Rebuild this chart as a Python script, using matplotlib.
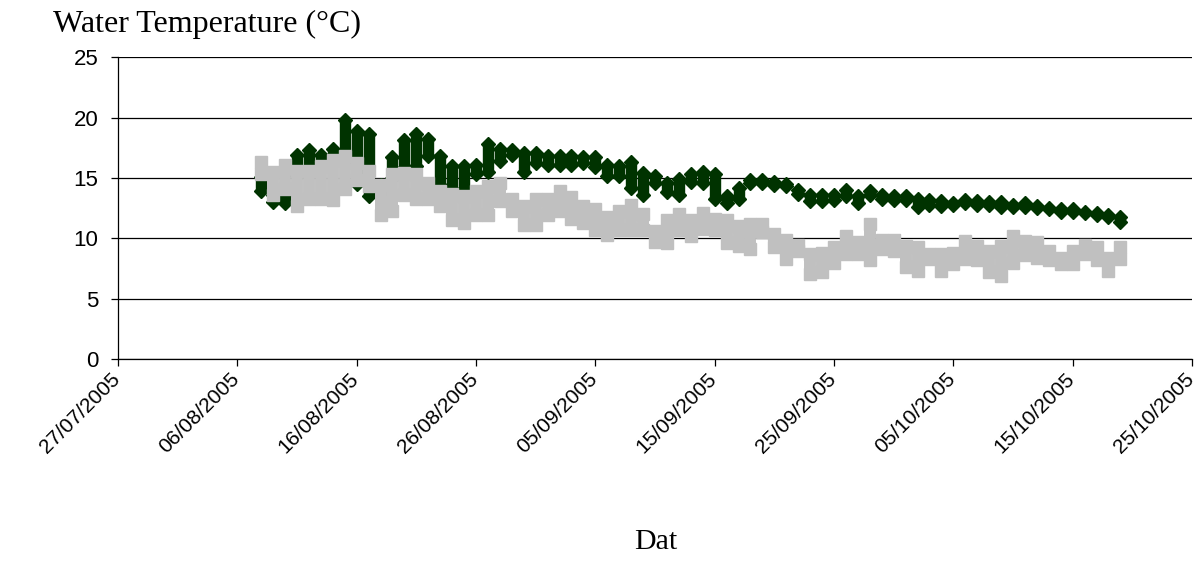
import matplotlib
matplotlib.use("Agg")
import matplotlib.pyplot as plt
import matplotlib.dates as mdates
import matplotlib.transforms as mtransforms
import pandas as pd

# one column of readings per day, 08/08/2005 .. 19/10/2005
first_day = "2005-08-08"
n_days = 73

# dark green series (diamonds): daily lowest / highest reading
green_min = [13.9, 13.0, 12.9, 15.2, 15.4, 15.8, 16.2, 16.5, 14.5, 13.5,
             13.8, 15.0, 15.8, 16.0, 16.8, 14.4, 14.1, 14.0, 15.3, 15.5,
             16.4, 16.9, 15.5, 16.2, 16.1, 16.1, 16.1, 16.2, 15.9, 15.2,
             15.2, 14.2, 13.6, 14.6, 13.8, 13.6, 14.7, 14.6, 13.3, 12.9,
             13.3, 14.6, 14.6, 14.4, 14.3, 13.7, 13.1, 13.1, 13.2, 13.5,
             12.9, 13.6, 13.3, 13.2, 13.2, 12.6, 12.8, 12.7, 12.8, 12.9,
             12.8, 12.8, 12.6, 12.6, 12.6, 12.5, 12.4, 12.2, 12.2, 12.1,
             11.9, 11.8, 11.4]
green_max = [15.1, 13.6, 13.6, 16.9, 17.3, 16.9, 17.4, 19.8, 18.9, 18.6,
             14.4, 16.7, 18.1, 18.6, 18.2, 16.8, 16.0, 16.0, 16.1, 17.8,
             17.4, 17.3, 17.1, 17.1, 16.8, 16.8, 16.8, 16.7, 16.7, 16.1,
             16.0, 16.3, 15.4, 15.2, 14.6, 14.9, 15.3, 15.5, 15.3, 13.5,
             14.2, 14.8, 14.8, 14.7, 14.5, 14.0, 13.6, 13.6, 13.6, 14.0,
             13.5, 13.9, 13.6, 13.5, 13.5, 13.3, 13.2, 13.1, 12.9, 13.2,
             13.1, 13.0, 13.0, 12.8, 12.9, 12.7, 12.5, 12.4, 12.4, 12.2,
             12.1, 11.9, 11.8]

# light grey series (squares): daily lowest / highest reading
grey_min = [15.3, 13.6, 14.1, 12.7, 13.3, 13.3, 13.2, 14.1, 14.8, 14.3,
            11.9, 12.3, 13.6, 13.3, 13.3, 12.7, 11.5, 11.3, 11.9, 11.9,
            13.1, 12.3, 11.1, 11.1, 11.9, 12.3, 11.6, 11.3, 10.7, 10.3,
            10.7, 10.7, 10.7, 9.7, 9.6, 10.7, 10.2, 10.8, 10.7, 9.6,
            9.4, 9.1, 10.5, 9.3, 8.3, 9.0, 7.1, 7.2, 8.0, 8.7,
            8.7, 8.2, 9.1, 9.0, 7.6, 7.3, 8.3, 7.3, 7.9, 8.3,
            8.2, 7.2, 6.9, 8.0, 8.6, 8.4, 8.2, 7.9, 7.9, 8.7,
            8.2, 7.3, 8.3]
grey_max = [16.3, 15.5, 16.1, 15.6, 15.6, 16.0, 16.5, 16.8, 16.2, 15.6,
            14.4, 15.3, 15.4, 15.3, 14.6, 13.9, 13.7, 13.5, 13.9, 14.3,
            14.6, 13.3, 12.7, 13.3, 13.3, 13.9, 13.4, 12.7, 12.4, 11.8,
            12.3, 12.8, 12.0, 10.6, 11.5, 12.0, 11.5, 12.1, 11.6, 11.5,
            11.0, 11.2, 11.2, 10.4, 9.9, 9.5, 8.7, 8.8, 9.3, 10.2,
            9.7, 11.2, 9.9, 9.9, 9.4, 9.3, 8.7, 8.7, 8.8, 9.8,
            9.4, 9.0, 9.4, 10.2, 9.8, 9.7, 9.0, 8.4, 9.0, 9.5,
            9.3, 8.4, 9.3]

axis_start = "2005-07-27"
axis_end = "2005-10-25"
y_ticks = [0, 5, 10, 15, 20, 25]

days = pd.date_range(first_day, periods=n_days, freq="D")
tick_days = pd.date_range(axis_start, axis_end, freq="10D")

green = "#003300"
grey = "#c0c0c0"

fig = plt.figure(figsize=(11.98, 5.62), dpi=100)
ax = fig.add_axes([0.0985, 0.3605, 0.8965, 0.538])

ax.vlines(days, green_min, green_max, color=green, linewidth=8.2, zorder=2)
ax.plot(days, green_min, "D", color=green, markersize=7, zorder=2)
ax.plot(days, green_max, "D", color=green, markersize=7, zorder=2)

ax.vlines(days, grey_min, grey_max, color=grey, linewidth=8.6, zorder=3)
ax.plot(days, grey_min, "s", color=grey, markersize=8.6, zorder=3)
ax.plot(days, grey_max, "s", color=grey, markersize=8.6, zorder=3)

ax.set_xlim(pd.Timestamp(axis_start), pd.Timestamp(axis_end))
ax.set_ylim(0, 25)
ax.set_yticks(y_ticks)
ax.set_xticks(tick_days)
ax.xaxis.set_major_formatter(mdates.DateFormatter("%d/%m/%Y"))

ax.grid(axis="y", color="black", linewidth=0.9, zorder=0)
ax.set_axisbelow(True)
for s in ["top", "right"]:
    ax.spines[s].set_visible(False)
ax.spines["left"].set_linewidth(0.9)
ax.spines["bottom"].set_linewidth(0.9)

ax.tick_params(axis="both", direction="out", length=5, width=0.9,
               colors="black")
ax.tick_params(axis="x", labelsize=15)
ax.tick_params(axis="y", labelsize=16, pad=9)
for lab in ax.get_xticklabels() + ax.get_yticklabels():
    lab.set_fontfamily("Liberation Sans")
shift = mtransforms.ScaledTranslation(-0.08, 0.02, fig.dpi_scale_trans)
for lab in ax.get_xticklabels():
    lab.set_rotation(45)
    lab.set_ha("right")
    lab.set_va("top")
    lab.set_rotation_mode("anchor")
    lab.set_transform(lab.get_transform() + shift)

fig.text(0.044, 0.957, "Water Temperature (°C)", fontsize=23,
         family="Liberation Serif", va="center", ha="left")
fig.text(0.547, 0.035, "Dat", fontsize=21.5, family="Liberation Serif",
         va="center", ha="center")

fig.savefig("out.png", dpi=100)
